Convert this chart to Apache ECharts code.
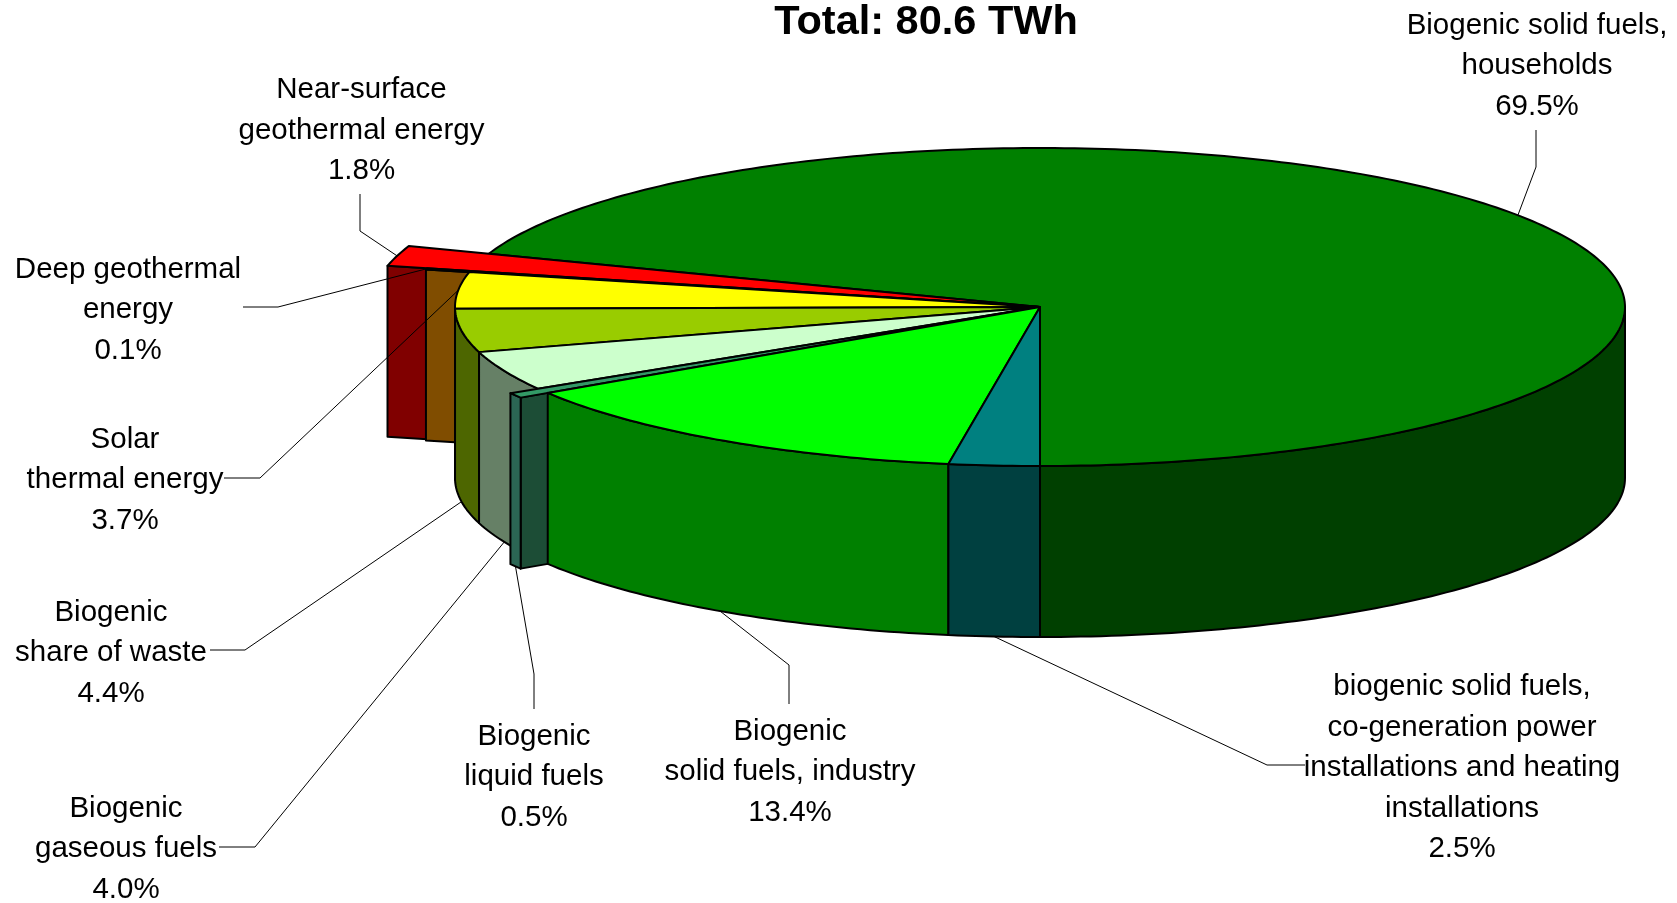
<!DOCTYPE html>
<html>
<head>
<meta charset="utf-8">
<style>html,body{margin:0;padding:0;background:#fff}#c{width:1677px;height:903px}</style>
<script src="https://cdn.jsdelivr.net/npm/echarts@6/dist/echarts.min.js"></script>
</head>
<body>
<div id="c"></div>
<script>
// Data: clockwise from the straight-down direction of the pie
const titleText = 'Total: 80.6 TWh';
const sliceNames = [
  'biogenic solid fuels,\nco-generation power\ninstallations and heating\ninstallations',
  'Biogenic\nsolid fuels, industry',
  'Biogenic\nliquid fuels',
  'Biogenic\ngaseous fuels',
  'Biogenic\nshare of waste',
  'Solar\nthermal energy',
  'Deep geothermal\nenergy',
  'Near-surface\ngeothermal energy',
  'Biogenic solid fuels,\nhouseholds'
];
const sliceValues = [2.5, 13.4, 0.5, 4.0, 4.4, 3.7, 0.1, 1.8, 69.5];

// Styles
const topColors  = ['#008080','#00ff00','#339966','#ccffcc','#99cc00','#ffff00','#ff9900','#ff0000','#008000'];
const wallColors = ['#004040','#008000','#2b6654','#668066','#4d6600','#808000','#804d00','#800000','#004000'];
const faceColors = [null,null,'#1c4d36',null,null,null,'#804d00','#800000',null];
const radiusScale = [1,1,1.055,1,1,1,1.076,1.145,1];

// Layout
const CX = 1040, CY = 307, RX = 585, RY = 159, DEPTH = 171, START = 180;
const labelCentres = [[1462,768],[790,772],[534,777],[126,849],[111,653],[125,480],[128,310],[361.5,130.5],[1537,66]];
const leaderElbows = [
  [[1305,765],[1267,765]], [[789,704],[789,665]], [[534,709],[534,674]],
  [[219,847],[255,847]], [[210,650],[245,650]], [[224,478],[260,478]],
  [[243,307],[278,307]], [[360,194],[360,231]], [[1536,130],[1536,167]]
];

const total = sliceValues.reduce((a,b)=>a+b,0);
const slices = [];
let acc = START;
sliceValues.forEach((v,i)=>{ const a0=acc, a1=acc+v/total*360; slices.push({i,a0,a1}); acc=a1; });

function pt(deg, r, dz){
  const t = deg*Math.PI/180;
  return [CX + r*RX*Math.sin(t), CY - r*RY*Math.cos(t) + (dz||0)];
}
function arc(a0,a1,r,dz){
  const pts=[], n=Math.max(2,Math.ceil(Math.abs(a1-a0)));
  for(let k=0;k<=n;k++) pts.push(pt(a0+(a1-a0)*k/n,r,dz));
  return pts;
}
// Part of [a0,a1] lying on the front half (90..270, modulo 360)
function frontRange(a0,a1){
  let lo=Math.max(a0,90), hi=Math.min(a1,270);
  if(hi>lo) return [lo,hi];
  lo=Math.max(a0,450); hi=Math.min(a1,630);
  return hi>lo?[lo,hi]:null;
}
function poly(points,fill){
  return {type:'polygon',shape:{points},style:{fill,stroke:'#000',lineWidth:2,lineJoin:'round'}};
}
function renderSlice(params,api){
  const s=slices[api.value(0)], r=radiusScale[s.i], kids=[];
  const fr=frontRange(s.a0,s.a1);
  if(fr){
    const up=arc(fr[0],fr[1],r,0), dn=arc(fr[1],fr[0],r,DEPTH);
    kids.push(poly(up.concat(dn),wallColors[s.i]));
  }
  if(faceColors[s.i]){
    kids.unshift(poly([[CX,CY],pt(s.a0,r,0),pt(s.a0,r,DEPTH),[CX,CY+DEPTH]],faceColors[s.i]));
  }
  kids.push(poly([[CX,CY]].concat(arc(s.a0,s.a1,r,0)),topColors[s.i]));
  return {type:'group',children:kids};
}
function renderLabel(params,api){
  const s=slices[api.value(0)], r=radiusScale[s.i], mid=(s.a0+s.a1)/2;
  const front=Math.cos(mid*Math.PI/180)<0;
  const anchor=pt(mid,r,front?DEPTH:0);
  const c=labelCentres[s.i];
  return {type:'group',children:[
    {type:'polyline',shape:{points:leaderElbows[s.i].concat([anchor])},
     style:{stroke:'#000',lineWidth:1,fill:null}},
    {type:'text',style:{text:sliceNames[s.i]+'\n'+sliceValues[s.i].toFixed(1)+'%',x:c[0],y:c[1],
      align:'center',verticalAlign:'middle',fill:'#000',lineHeight:40.6,
      font:'29.5px "Liberation Sans", Arial, sans-serif'}}
  ]};
}
const drawOrder = slices.map(s=>[s.i]).reverse(); // households first, then back to front
const chart=echarts.init(document.getElementById('c'),null,{renderer:'canvas'});
chart.setOption({
  animation:false,
  backgroundColor:'#fff',
  title:{text:titleText,left:921,top:-3,textAlign:'center',
    textStyle:{fontFamily:'"Liberation Sans", Arial, sans-serif',fontWeight:'bold',fontSize:41.5,color:'#000'}},
  series:[
    {type:'custom',coordinateSystem:'none',renderItem:renderSlice,data:drawOrder,silent:true,z:2},
    {type:'custom',coordinateSystem:'none',renderItem:renderLabel,data:drawOrder,silent:true,z:3}
  ]
});
</script>
</body>
</html>
